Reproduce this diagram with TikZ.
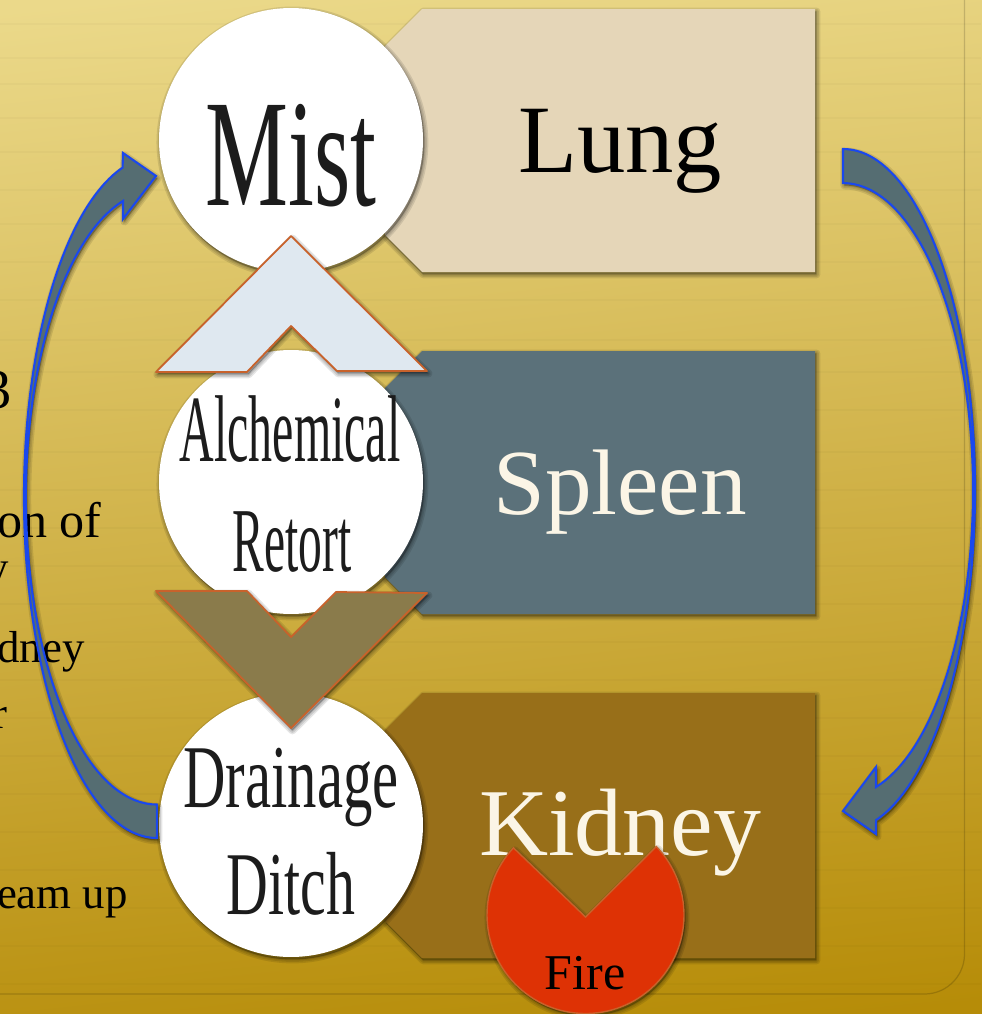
\documentclass[tikz,border=0pt]{standalone}
\usepackage{graphicx}
\usepackage{fontspec}
\setmainfont{Liberation Serif}
\usetikzlibrary{calc}
\definecolor{bgtop}{HTML}{EBD98A}
\definecolor{bgmid}{HTML}{D2B352}
\definecolor{bgbot}{HTML}{B68C08}
\definecolor{lungtan}{HTML}{E5D6B8}
\definecolor{spleenslate}{HTML}{5B717A}
\definecolor{kidneybrown}{HTML}{986F19}
\definecolor{edgerust}{HTML}{C8622B}
\definecolor{chevpale}{HTML}{DFE8F0}
\definecolor{chevolive}{HTML}{8A7B4B}
\definecolor{flowslate}{HTML}{556D72}
\definecolor{flowblue}{HTML}{1A48EE}
\definecolor{firered}{HTML}{DE3205}
\definecolor{creamtext}{HTML}{FBF5E6}
\definecolor{disctextgrey}{HTML}{1C1C1C}
\begin{document}
\begin{tikzpicture}[x=0.02cm,y=-0.02cm,
  shadowstep/.style={preaction={draw=black,fill=black,line join=round,opacity=.1,line width=#1,transform canvas={xshift=.8pt,yshift=-1.4pt}}},
  softshadow/.style={shadowstep=4.5pt,shadowstep=2.8pt,shadowstep=1.2pt},
  tagtext/.style={anchor=base,inner sep=0pt},
  disc/.style={circle,fill=white,minimum size=5.28cm,inner sep=0pt,softshadow},
  disctext/.style={anchor=base,inner sep=0pt,text=disctextgrey},
  chev/.style={draw=edgerust,line width=1pt,line join=round,softshadow},
  flow/.style={draw=flowblue,fill=flowslate,line width=1.2pt,line join=miter,softshadow},
  cut/.style={anchor=base east,inner sep=0pt,font=\fontsize{25.5}{30}\selectfont}]
\useasboundingbox (0,0) rectangle (981,1014);
\shade[top color=bgtop,middle color=bgmid,bottom color=bgbot,shading angle=6] (-40,-40) rectangle (1021,1054);
\foreach \y in {24,58,84,118,152,190,224,262,300,340,372,410,452,490,528,566,604,642,680,718,756,794,832,870,908,946,984}
  \draw[black,opacity=.02,line width=1.5pt] (0,\y) -- (981,\y);
\draw[black,opacity=.16,line width=.7pt,rounded corners=.8cm] (964.5,-20) -- (964.5,994) -- (-20,994);
% text of the slide behind the figure
\node[cut,font=\fontsize{32}{36}\selectfont] (frag3) at (12,408) {3};
\node[cut,font=\fontsize{28.5}{32}\selectfont] (fragof) at (102,537) {on of};
\node[cut] (fragy) at (9,582) {y};
\node[cut] (fragney) at (85,662) {dney};
\node[cut] (fragr) at (8,728) {r};
\node[cut] (fragup) at (128,908) {eam up};
% tags
\fill[softshadow,fill=lungtan] (422,9) -- (815,9) -- (815,272) -- (422,272) -- (385,235) -- (385,46) -- cycle;
\fill[softshadow,fill=spleenslate] (422,351) -- (815,351) -- (815,614) -- (422,614) -- (385,577) -- (385,388) -- cycle;
\fill[softshadow,fill=kidneybrown] (422,693) -- (815,693) -- (815,958) -- (422,958) -- (385,921) -- (385,730) -- cycle;
\node[tagtext,font=\fontsize{55}{60}\selectfont] (lung) at (620,172) {Lung};
\node[tagtext,text=creamtext,font=\fontsize{53}{60}\selectfont] (spleen) at (620,514) {Spleen};
\node[tagtext,text=creamtext,font=\fontsize{54.5}{60}\selectfont] (kidney) at (620,855) {Kidney};
% discs
\node[disc] (mist) at (291,140) {};
\node[disc] (retort) at (291,482) {};
\node[disc] (ditch) at (291,825) {};
\node[disctext,font=\fontsize{87}{90}\selectfont] (misttext) at (291,205) {\scalebox{.61}[1]{Mist}};
\node[disctext,font=\fontsize{54}{60}\selectfont] (alchtext) at (290,461) {\scalebox{.505}[1]{Alchemical}};
\node[disctext,font=\fontsize{52}{60}\selectfont] (retorttext) at (292,571) {\scalebox{.52}[1]{Retort}};
\node[disctext,font=\fontsize{51}{60}\selectfont] (draintext) at (291,807) {\scalebox{.655}[1]{Drainage}};
\node[disctext,font=\fontsize{51}{60}\selectfont] (ditchtext) at (291,914) {\scalebox{.645}[1]{Ditch}};
% chevrons
\draw[chev,fill=chevpale] (291,236) -- (427,371) -- (337,371) -- (291,326) -- (247,372) -- (156,372) -- cycle;
\draw[chev,fill=chevolive] (156,591) -- (247,591) -- (291,637) -- (336,592) -- (427,593) -- (291,728) -- cycle;
% curved arrows
\coordinate (lungtail) at (843,149);
\coordinate (ditchtail) at (157,838);
\draw[flow] (lungtail) arc[start angle=-90,end angle=75.5,x radius=132,y radius=341]
  -- (876,834) -- (843,811) -- (876,767) -- (876,787)
  arc[start angle=75.3,end angle=-90,x radius=130,y radius=307] -- cycle;
\draw[flow] (ditchtail) arc[start angle=90,end angle=255,x radius=133,y radius=341]
  -- (123,153) -- (156,176) -- (123,219) -- (123,201)
  arc[start angle=255,end angle=90,x radius=131,y radius=307] -- cycle;
% fire
\coordinate (firemid) at (585.5,917);
\draw[fill=firered,draw=edgerust,line width=.8pt,softshadow] (firemid) -- ($(585.5,915)+(-44:98.5)$) arc[start angle=-44,end angle=223,radius=98.5] -- cycle;
\node[anchor=base,inner sep=0pt,font=\fontsize{28.5}{32}\selectfont] (fire) at (585,989) {Fire};
\end{tikzpicture}
\end{document}
